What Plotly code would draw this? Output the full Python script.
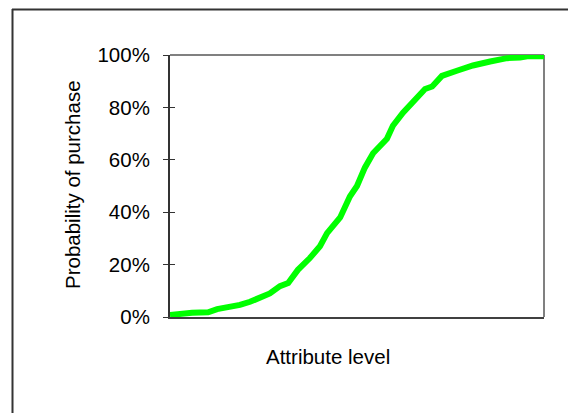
import plotly.graph_objects as go

# Attribute level (relative position along the axis, 0-100)
attribute_level = [0, 4.8, 5.9, 10.2, 12.6, 18.7, 21.4, 26.7, 29.4, 31.6, 34.2, 37.4,
                   40.1, 42.0, 45.5, 48.1, 50.0, 52.1, 54.3, 58.0, 59.6, 62.3, 65.5,
                   68.2, 70.1, 72.7, 76.7, 81.0, 85.6, 90.1, 93.6, 95.5, 100]
# Probability of purchase (fraction)
probability = [0.008, 0.010, 0.016, 0.018, 0.030, 0.046, 0.058, 0.090, 0.118, 0.130,
               0.180, 0.225, 0.270, 0.320, 0.380, 0.460, 0.500, 0.570, 0.625, 0.680,
               0.730, 0.780, 0.825, 0.870, 0.880, 0.920, 0.940, 0.960, 0.975, 0.988,
               0.990, 0.995, 0.995]
y_ticks = [0, 0.2, 0.4, 0.6, 0.8, 1.0]
x_title = "Attribute level"
y_title = "Probability of purchase"

W, H = 568, 413
L, R, T, B = 170, 24, 55, 96
pw, ph = W - L - R, H - T - B

def px(x):
    return (x - L) / pw

def py(y):
    return (H - B - y) / ph

font = dict(family="Liberation Sans, Arial, sans-serif", size=20.5, color="black")

fig = go.Figure()
fig.add_trace(go.Scatter(x=attribute_level, y=probability, mode="lines",
                         line=dict(color="#00FF00", width=6), showlegend=False,
                         hoverinfo="skip"))
# invisible trace to carry the inside ticks on a twin axis
fig.add_trace(go.Scatter(x=[0], y=[0], yaxis="y2", mode="lines",
                         line=dict(width=0), showlegend=False, hoverinfo="skip"))

fig.update_layout(
    width=W, height=H,
    margin=dict(l=L, r=R, t=T, b=B),
    paper_bgcolor="white", plot_bgcolor="white",
    font=font,
    xaxis=dict(range=[0, 100], showgrid=False, zeroline=False, showticklabels=False,
               ticks="", showline=True, linecolor="#404040", linewidth=2),
    yaxis=dict(range=[0, 1], tickvals=y_ticks, tickformat=".0%", showgrid=False,
               zeroline=False, ticks="outside", ticklen=5, tickwidth=1,
               tickcolor="#333333", showline=True, linecolor="#333333", linewidth=2,
               tickfont=font, ticklabelstandoff=9),
    yaxis2=dict(range=[0, 1], tickvals=y_ticks, overlaying="y", side="left",
                showgrid=False, zeroline=False, showticklabels=False,
                ticks="inside", ticklen=5, tickwidth=1, tickcolor="#333333",
                showline=False),
    shapes=[
        # plot frame top and right (gray)
        dict(type="line", xref="paper", yref="paper", x0=0, x1=1, y0=1, y1=1,
             line=dict(color="#808080", width=2), layer="below"),
        dict(type="line", xref="paper", yref="paper", x0=1, x1=1, y0=0, y1=1,
             line=dict(color="#808080", width=2), layer="below"),
        # outer chart border (extends past the page edges)
        dict(type="line", xref="paper", yref="paper", x0=px(12), x1=px(620),
             y0=py(9.5), y1=py(9.5), line=dict(color="#333333", width=2)),
        dict(type="line", xref="paper", yref="paper", x0=px(12.5), x1=px(12.5),
             y0=py(9), y1=py(460), line=dict(color="#333333", width=2)),
    ],
    annotations=[
        dict(text=x_title, xref="paper", yref="paper", x=px(327.5), y=py(356),
             xanchor="center", yanchor="middle", showarrow=False, font=font),
        dict(text=y_title, xref="paper", yref="paper", x=px(72), y=py(185),
             xanchor="center", yanchor="middle", showarrow=False, font=font,
             textangle=-90),
    ],
)

fig.write_html("out.html", config={"displayModeBar": False},
               post_script="document.body.style.margin='0';")
